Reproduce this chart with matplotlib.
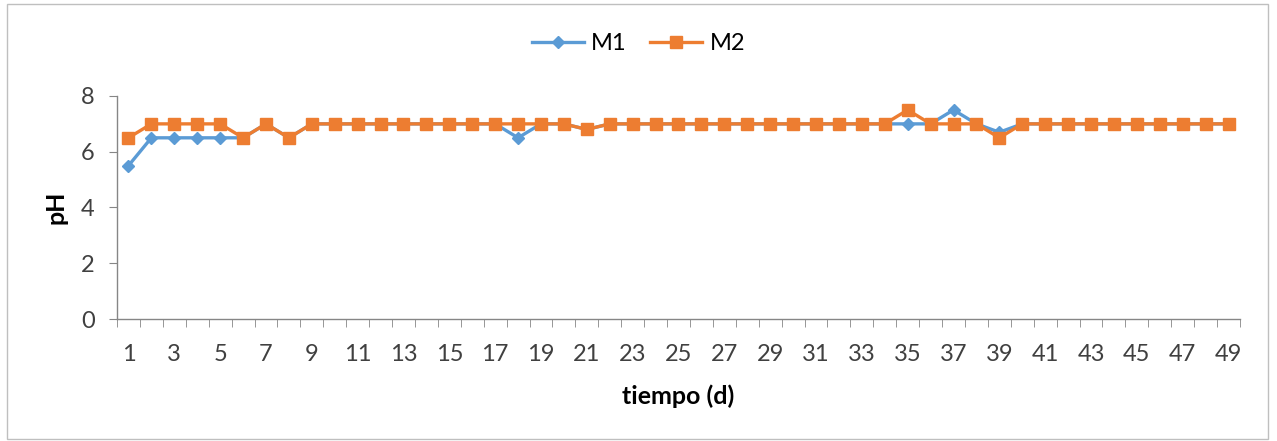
import matplotlib
matplotlib.use("Agg")
import matplotlib.pyplot as plt
from matplotlib.patches import Rectangle
from matplotlib.ticker import FixedLocator, MultipleLocator

plt.rcParams['font.family'] = ['Lato', 'DejaVu Sans']

days = list(range(1, 50))
m1 = [5.5, 6.5, 6.5, 6.5, 6.5, 6.5, 7, 6.5, 7, 7,
      7, 7, 7, 7, 7, 7, 7, 6.5, 7, 7,
      6.8, 7, 7, 7, 7, 7, 7, 7, 7, 7,
      7, 7, 7, 7, 7, 7, 7.5, 7, 6.7, 7,
      7, 7, 7, 7, 7, 7, 7, 7, 7]
m2 = [6.5, 7, 7, 7, 7, 6.5, 7, 6.5, 7, 7,
      7, 7, 7, 7, 7, 7, 7, 7, 7, 7,
      6.8, 7, 7, 7, 7, 7, 7, 7, 7, 7,
      7, 7, 7, 7, 7.5, 7, 7, 7, 6.5, 7,
      7, 7, 7, 7, 7, 7, 7, 7, 7]
tick_labels = [str(d) for d in days[::2]]

BLUE = '#5B9BD5'
ORANGE = '#ED7D31'
AXIS = '#868686'
TEXT = '#404040'

fig = plt.figure(figsize=(12.77, 4.41), dpi=100)
ax = fig.add_axes([117/1277, 1 - 319/441, (1240 - 117)/1277, (319 - 96)/441])

ax.plot(days, m1, color=BLUE, lw=2.4, marker='D', ms=6.5, label='M1', zorder=3)
ax.plot(days, m2, color=ORANGE, lw=2.4, marker='s', ms=9, label='M2', zorder=4)

ax.set_xlim(0.5, 49.5)
ax.set_ylim(0, 8)
ax.yaxis.set_major_locator(MultipleLocator(2))
ax.xaxis.set_major_locator(FixedLocator(days[::2]))
ax.set_xticklabels(tick_labels)
ax.xaxis.set_minor_locator(FixedLocator([d - 0.5 for d in days] + [49.5]))
ax.tick_params(axis='x', which='major', length=0, pad=18, labelsize=17, labelcolor=TEXT)
ax.tick_params(axis='x', which='minor', length=6, color=AXIS, direction='out')
ax.tick_params(axis='y', which='major', length=6, color=AXIS, labelsize=17,
               labelcolor=TEXT, pad=10)

for side in ('top', 'right'):
    ax.spines[side].set_visible(False)
for side in ('left', 'bottom'):
    ax.spines[side].set_color(AXIS)
    ax.spines[side].set_linewidth(1)

ax.set_ylabel('pH', fontsize=18, fontweight='bold', color='#000000', labelpad=10)
ax.set_xlabel('tiempo (d)', fontsize=18, fontweight='bold', color='#000000', labelpad=14)

fig.legend(loc='center', bbox_to_anchor=(0.5, 1 - 44/441), ncol=2, frameon=False,
           fontsize=17, handlelength=2.2, columnspacing=1.0, handletextpad=0.3)

fig.patches.append(Rectangle((7/1277, 2/441), (1268 - 7)/1277, (437 - 2)/441,
                             transform=fig.transFigure, fill=False,
                             edgecolor='#BFBFBF', lw=1))

fig.savefig('out.png', dpi=100)
